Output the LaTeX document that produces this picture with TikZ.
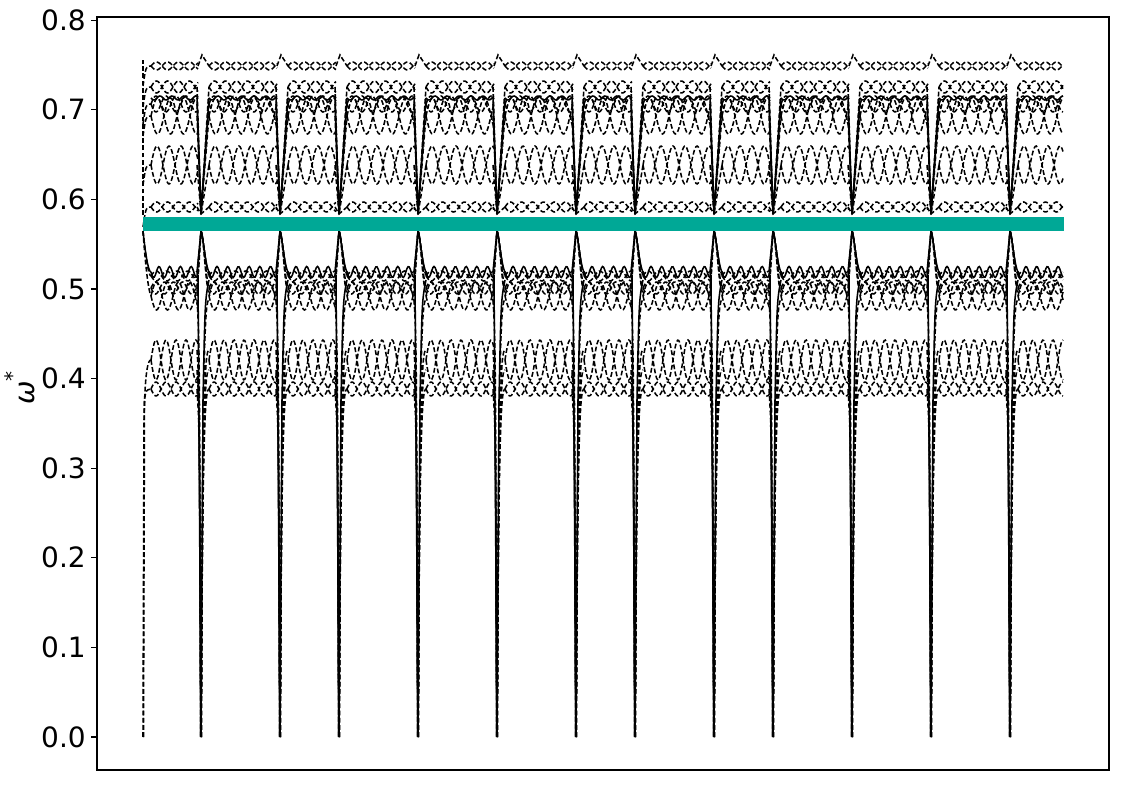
\documentclass[tikz,border=0pt]{standalone}
\usepackage{fontspec}
\setmainfont{DejaVu Sans}
\definecolor{bandteal}{RGB}{0,168,150}
\tikzset{
  dl/.style={line width=1.15pt, dash pattern=on 3.6pt off 1.8pt, black},
  sl/.style={line width=1.15pt, black},
  axisline/.style={line width=0.8pt, black},
  ticklab/.style={anchor=east, font=\fontsize{21}{24}\selectfont, inner sep=0pt},
}
% #1 start #2 end #3 centre #4 amplitude #5 period #6 style #7 samples
\newcommand{\bandpair}[7]{%
  \draw[#6] plot[smooth, domain=#1:#2, samples=#7] (\x,{#3+#4*sin((360/#5)*(\x-#1))});
  \draw[#6] plot[smooth, domain=#1:#2, samples=#7] (\x,{#3-#4*sin((360/#5)*(\x-#1))});
}
\newcommand{\bandone}[7]{%
  \draw[#6] plot[smooth, domain=#1:#2, samples=#7] (\x,{#3+#4*sin((360/#5)*(\x-#1))});
}
\begin{document}
\begin{tikzpicture}[x=0.75pt,y=-0.75pt]
\useasboundingbox (0,0) rectangle (1125,787);

% ---- band curves, segment by segment ----
\foreach \s/\e [count=\i] in {143/201,201/280,280/339,339/418,418/497,497/576,576/635,635/714,714/773,773/852,852/931,931/1010,1010/1066}{
  \pgfmathsetmacro\a{\s+8}
  \pgfmathsetmacro\b{\e-3}
  \pgfmathtruncatemacro\ns{(\e-\s)/1.3}
  % upper bands
  \bandpair{\a}{\b}{66}{4}{22}{dl}{\ns}
  \bandpair{\a}{\b}{87}{6}{22}{dl}{\ns}
  \bandpair{\a}{\b}{104}{8}{20}{dl}{\ns}
  \bandpair{\a}{\b}{116}{18}{26}{dl}{\ns}
  \bandone{\a}{\b}{98}{2}{12}{sl}{\ns}
  \bandpair{\a}{\b}{165}{19}{24}{dl}{\ns}
  \bandpair{\a}{\b}{207}{5}{22}{dl}{\ns}
  % lower bands
  \bandone{\a}{\b}{272}{5.5}{10.7}{sl}{\ns}
  \bandpair{\a}{\b}{276}{5}{21}{dl}{\ns}
  \bandpair{\a}{\b}{288}{6}{18}{dl}{\ns}
  \bandpair{\a}{\b}{296}{14}{22}{dl}{\ns}
  \bandpair{\a}{\b}{360}{20}{20}{dl}{\ns}
  \bandpair{\a}{\b}{389}{7}{20}{dl}{\ns}
}

% ---- start of the curves ----
\draw[dl] (143,215) -- (143,60);
\foreach \yb in {66,87,104,116,165,207}{
  \draw[dl] (143,{\yb+20}) .. controls (146,\yb) .. (151,\yb);
}
\draw[sl] (143,231) .. controls (145,250) and (148,272) .. (151,272);
\draw[dl] (143,231) .. controls (145,260) and (148,290) .. (151,296);
\draw[dl] (143,231) .. controls (145,250) and (148,276) .. (151,276);
\draw[dl] (143,737) -- (144,420) .. controls (145,370) and (148,360) .. (151,360);
\draw[dl] (143.5,737) -- (144.5,400) .. controls (146,390) .. (151,389);

% ---- spikes ----
\foreach \p in {201,280,339,418,497,576,635,714,773,852,931,1010}{
  % lower tent to the peak
  \foreach \yb in {276,288,296}{
    \draw[dl] (\p-4,\yb) -- (\p,231) .. controls (\p+3,236) and (\p+5,\yb) .. (\p+9,\yb);
  }
  \draw[sl] (\p-4,272) -- (\p,231) .. controls (\p+2,236) and (\p+5,272) .. (\p+9,273);
  % plunge to zero
  \foreach \yb in {300,350,370,389}{
    \draw[dl] (\p-4,\yb) .. controls (\p-1.5,\yb+40) .. (\p-0.3,737);
    \draw[dl] (\p+0.3,737) .. controls (\p+1.5,\yb+40) and (\p+4,\yb) .. (\p+8,\yb);
  }
  \draw[sl] (\p-3,275) -- (\p,737) -- (\p+2,400) .. controls (\p+4,300) .. (\p+8,280);
  % upper dips towards the band
  \foreach \yb in {87,104,116,165,207}{
    \draw[dl] (\p-4,\yb) -- (\p,214) -- (\p+8,\yb);
  }
  \draw[sl] (\p-4,98) -- (\p,212) -- (\p+8,98);
  \draw[dl] (\p-3,66) -- (\p+1,55) -- (\p+8,66);
}

% ---- teal band ----
\fill[bandteal] (143,217) rectangle (1064,231);

% ---- axes ----
\draw[axisline] (97,17) rectangle (1109,770);
\foreach \v [count=\k from 0] in {0.0,0.1,0.2,0.3,0.4,0.5,0.6,0.7,0.8}{
  \pgfmathsetmacro\yy{737-89.6*\k}
  \draw[axisline] (97,\yy) -- (91,\yy);
  \node[ticklab] at (86,\yy) {\v};
}
\node[rotate=90, font=\fontsize{21}{24}\selectfont, inner sep=0pt] (ylab) at (20,388)
  {\itshape ω\upshape\raisebox{0.55em}{\fontsize{15}{16}\selectfont *}};
\end{tikzpicture}
\end{document}
